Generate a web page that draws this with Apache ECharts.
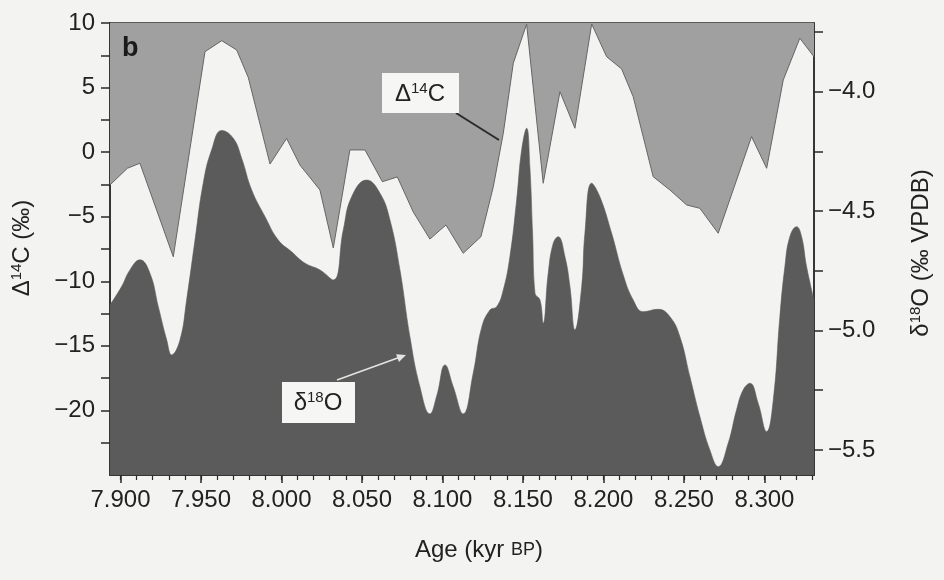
<!DOCTYPE html>
<html>
<head>
<meta charset="utf-8">
<script src="https://cdn.jsdelivr.net/npm/echarts@6/dist/echarts.min.js"></script>
<style>
html,body{margin:0;padding:0;background:#f3f3f1;}
#chart{width:944px;height:580px;}
</style>
</head>
<body>
<div id="chart"></div>
<script>
// ---- Data ----
const ages14 = [7.8935, 7.9043, 7.9121, 7.9328, 7.9525, 7.9629, 7.9722, 7.9794, 7.9929, 8.0032, 8.0115, 8.0239, 8.0322, 8.0425, 8.0519, 8.0627, 8.0720, 8.0819, 8.0922, 8.1022, 8.1129, 8.1239, 8.1316, 8.1378, 8.1440, 8.1523, 8.1626, 8.1730, 8.1823, 8.1927, 8.2020, 8.2113, 8.2185, 8.2309, 8.2413, 8.2517, 8.2599, 8.2713, 8.2920, 8.3014, 8.3117, 8.3220, 8.3308];
const d14C = [-2.54, -1.25, -0.86, -8.10, 7.78, 8.63, 7.91, 5.78, -0.92, 1.06, -1.00, -2.93, -7.42, 0.17, 0.17, -2.29, -1.92, -4.64, -6.73, -5.64, -7.83, -6.55, -2.68, 1.46, 6.88, 9.92, -2.41, 4.68, 1.85, 9.92, 7.39, 6.44, 4.29, -1.90, -2.93, -4.09, -4.35, -6.28, 1.20, -1.25, 5.59, 8.82, 7.39];

const ages18 = [7.8935, 7.9007, 7.9059, 7.9121, 7.9183, 7.9235, 7.9287, 7.9318, 7.9370, 7.9411, 7.9463, 7.9514, 7.9566, 7.9629, 7.9701, 7.9753, 7.9815, 7.9898, 7.9980, 8.0063, 8.0146, 8.0239, 8.0322, 8.0384, 8.0436, 8.0529, 8.0612, 8.0674, 8.0736, 8.0798, 8.0860, 8.0922, 8.0966, 8.1016, 8.1067, 8.1129, 8.1191, 8.1243, 8.1295, 8.1337, 8.1378, 8.1419, 8.1461, 8.1492, 8.1523, 8.1543, 8.1560, 8.1575, 8.1606, 8.1626, 8.1657, 8.1688, 8.1719, 8.1761, 8.1792, 8.1823, 8.1865, 8.1885, 8.1927, 8.1978, 8.2051, 8.2123, 8.2185, 8.2247, 8.2340, 8.2413, 8.2475, 8.2537, 8.2599, 8.2661, 8.2713, 8.2775, 8.2827, 8.2868, 8.2910, 8.2961, 8.3014, 8.3055, 8.3096, 8.3127, 8.3158, 8.3200, 8.3231, 8.3262, 8.3308];
const d18O = [-4.893, -4.816, -4.746, -4.704, -4.760, -4.900, -5.039, -5.102, -5.039, -4.872, -4.621, -4.383, -4.244, -4.162, -4.195, -4.279, -4.411, -4.523, -4.621, -4.670, -4.718, -4.746, -4.788, -4.579, -4.440, -4.370, -4.425, -4.537, -4.746, -5.026, -5.235, -5.349, -5.270, -5.144, -5.235, -5.349, -5.179, -4.989, -4.914, -4.900, -4.830, -4.691, -4.453, -4.244, -4.153, -4.314, -4.593, -4.844, -4.872, -4.969, -4.760, -4.635, -4.607, -4.691, -4.816, -4.997, -4.816, -4.593, -4.383, -4.440, -4.593, -4.767, -4.872, -4.921, -4.911, -4.942, -5.026, -5.193, -5.360, -5.500, -5.570, -5.472, -5.332, -5.249, -5.221, -5.304, -5.423, -5.291, -4.942, -4.733, -4.607, -4.565, -4.607, -4.733, -4.872];

const xMajorTicks = [7.90, 7.95, 8.00, 8.05, 8.10, 8.15, 8.20, 8.25, 8.30];
const xMinorTicks = [7.90, 7.91, 7.92, 7.93, 7.94, 7.95, 7.96, 7.97, 7.98, 7.99, 8.00, 8.01, 8.02, 8.03, 8.04, 8.05, 8.06, 8.07, 8.08, 8.09, 8.10, 8.11, 8.12, 8.13, 8.14, 8.15, 8.16, 8.17, 8.18, 8.19, 8.20, 8.21, 8.22, 8.23, 8.24, 8.25, 8.26, 8.27, 8.28, 8.29, 8.30, 8.31, 8.32, 8.33];
const leftLabels = [10, 5, 0, -5, -10, -15, -20];
const leftTicks = [10, 7.5, 5, 2.5, 0, -2.5, -5, -7.5, -10, -12.5, -15, -17.5, -20, -22.5];
const rightLabels = [-4.0, -4.5, -5.0, -5.5];
const rightTicks = [-3.75, -4.0, -4.25, -4.5, -4.75, -5.0, -5.25, -5.5];

// ---- Chart ----
const FF = "'Liberation Sans', Arial, Helvetica, sans-serif";
const TXT = '#222';
const AX = '#2a2a2a';
const minus = s => s.replace('-', '\u2212');

const chart = echarts.init(document.getElementById('chart'), null, {renderer: 'canvas'});

const supRich = {
  n: {fontSize: 24, fontFamily: FF, fill: TXT, lineHeight: 26},
  s: {fontSize: 15, fontFamily: FF, fill: TXT, verticalAlign: 'top', lineHeight: 26}
};

const option = {
  backgroundColor: '#f3f3f1',
  animation: false,
  grid: {left: 110, right: 130, top: 23, bottom: 105, show: true, borderColor: AX, borderWidth: 1.5, backgroundColor: 'transparent', containLabel: false},
  xAxis: [
    {
      type: 'value', min: 7.8935, max: 8.3308, position: 'bottom',
      axisLine: {show: true, onZero: false, lineStyle: {color: AX, width: 1.5}},
      axisTick: {show: true, inside: false, length: 8, customValues: xMajorTicks, lineStyle: {color: AX, width: 1.5}},
      axisLabel: {show: true, customValues: xMajorTicks, margin: 13, fontSize: 24, fontFamily: FF, color: TXT, formatter: v => v.toFixed(3)},
      splitLine: {show: false}
    },
    {
      type: 'value', min: 7.8935, max: 8.3308, position: 'bottom',
      axisLine: {show: false, onZero: false},
      axisTick: {show: true, inside: false, length: 5, customValues: xMinorTicks, lineStyle: {color: AX, width: 1.2}},
      axisLabel: {show: false},
      splitLine: {show: false}
    }
  ],
  yAxis: [
    {
      type: 'value', min: -25, max: 10, position: 'left',
      axisLine: {show: true, onZero: false, lineStyle: {color: AX, width: 1.5}},
      axisTick: {show: true, length: 9, customValues: leftTicks, lineStyle: {color: AX, width: 1.5}},
      axisLabel: {show: true, customValues: leftLabels, margin: 15, fontSize: 24, fontFamily: FF, color: TXT, formatter: v => minus(String(v))},
      splitLine: {show: false}
    },
    {
      type: 'value', min: -5.605, max: -3.712, position: 'right',
      axisLine: {show: true, onZero: false, lineStyle: {color: AX, width: 1.5}},
      axisTick: {show: true, length: 9, customValues: rightTicks, lineStyle: {color: AX, width: 1.5}},
      axisLabel: {show: true, customValues: rightLabels, margin: 14, fontSize: 24, fontFamily: FF, color: TXT, formatter: v => minus(v.toFixed(1))},
      splitLine: {show: false}
    }
  ],
  series: [
    {
      name: 'd18O', type: 'line', xAxisIndex: 0, yAxisIndex: 1,
      data: ages18.map((a, i) => [a, d18O[i]]),
      smooth: 0.45, showSymbol: false, symbol: 'none',
      lineStyle: {width: 0.6, color: '#5b5b5b'},
      areaStyle: {origin: 'start', color: '#5b5b5b', opacity: 1},
      z: 2
    },
    {
      name: 'd14C', type: 'line', xAxisIndex: 0, yAxisIndex: 0,
      data: ages14.map((a, i) => [a, d14C[i]]),
      smooth: false, showSymbol: false, symbol: 'none',
      lineStyle: {width: 1, color: '#666'},
      areaStyle: {origin: 'end', color: '#a0a0a0', opacity: 1},
      z: 3
    }
  ],
  graphic: [
    {type: 'text', x: 122, y: 35, z: 100, style: {text: 'b', font: 'bold 27px ' + FF, fill: '#1a1a1a'}},
    {type: 'text', x: 22, y: 248, rotation: Math.PI / 2, z: 100,
      style: {text: '{n|Δ}{s|14}{n|C (‰)}', align: 'center', verticalAlign: 'middle', rich: supRich}},
    {type: 'text', x: 921, y: 253, rotation: Math.PI / 2, z: 100,
      style: {text: '{n|δ}{s|18}{n|O (‰ VPDB)}', align: 'center', verticalAlign: 'middle', rich: supRich}},
    {type: 'text', x: 479, y: 550, z: 100,
      style: {text: '{n|Age (kyr }{c|BP}{n|)}', align: 'center', verticalAlign: 'middle',
        rich: {n: {fontSize: 24, fontFamily: FF, fill: TXT, lineHeight: 26}, c: {fontSize: 18, fontFamily: FF, fill: TXT, verticalAlign: 'middle', lineHeight: 26}}}},
    // Δ14C label box and leader
    {type: 'line', z: 99, shape: {x1: 456, y1: 113, x2: 499, y2: 140}, style: {stroke: '#2a2a2a', lineWidth: 2}},
    {type: 'rect', z: 99, shape: {x: 382, y: 73, width: 77, height: 40}, style: {fill: '#f6f6f4'}},
    {type: 'text', x: 420, y: 94, z: 100,
      style: {text: '{n|Δ}{s|14}{n|C}', align: 'center', verticalAlign: 'middle', rich: supRich}},
    // δ18O label box and arrow
    {type: 'line', z: 99, shape: {x1: 337, y1: 380, x2: 399, y2: 357.5}, style: {stroke: '#e4e4e2', lineWidth: 1.6}},
    {type: 'polygon', z: 99, shape: {points: [[406, 355], [398.9, 361.9], [396.1, 354.3]]}, style: {fill: '#e4e4e2'}},
    {type: 'rect', z: 99, shape: {x: 282, y: 382, width: 73, height: 41}, style: {fill: '#f6f6f4'}},
    {type: 'text', x: 318, y: 403, z: 100,
      style: {text: '{n|δ}{s|18}{n|O}', align: 'center', verticalAlign: 'middle', rich: supRich}}
  ]
};
chart.setOption(option);
</script>
</body>
</html>
